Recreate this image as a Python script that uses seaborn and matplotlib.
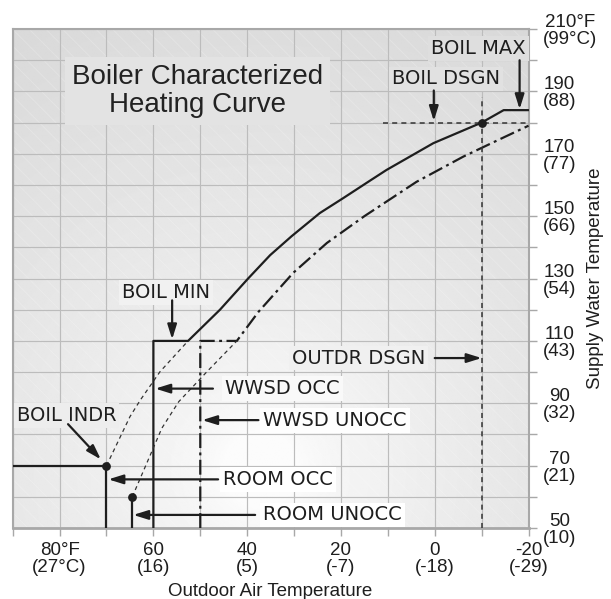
import numpy as np
import pandas as pd
import matplotlib
matplotlib.use("Agg")
import matplotlib.pyplot as plt
import seaborn as sns
from matplotlib.patches import Rectangle

# ---------------- data ----------------
x_ticks = list(range(90, -21, -10))
y_ticks = list(range(50, 211, 10))
x_label_map = {80: "80°F\n(27°C)", 60: "60\n(16)", 40: "40\n(5)", 20: "20\n(-7)",
               0: "0\n(-18)", -20: "-20\n(-29)"}
y_label_map = {210: "210°F\n(99°C)", 190: "190\n(88)", 170: "170\n(77)", 150: "150\n(66)",
               130: "130\n(54)", 110: "110\n(43)", 90: "90\n(32)", 70: "70\n(21)", 50: "50\n(10)"}

# occupied boiler curve (WWSD OCC vertical, BOIL MIN, curve, BOIL MAX)
occ_x = [60, 60, 52.6, 45.8, 39.8, 35.1, 30.5, 24.5, 19.5, 14.2, 10.3, 0.3, -10.0, -14.7, -20.0]
occ_y = [50, 110, 110, 120.0, 130.0, 137.5, 143.6, 151.0, 155.8, 161.0, 164.8, 173.4, 180.0, 184.0, 184.0]

# unoccupied boiler curve (WWSD UNOCC vertical, curve)
unocc_x = [50, 50, 42.2, 37.6, 30.2, 23.0, 15.0, 3.9, -6.1, -13.5, -20.0]
unocc_y = [50, 110, 110, 119.3, 131.8, 141.4, 150.0, 161.0, 169.1, 174.4, 179.0]

# thin dashed extensions below BOIL MIN
ext_occ_x = [70, 65, 62.8, 58.6, 52.6]
ext_occ_y = [70, 85.7, 91.0, 100.1, 110]
ext_unocc_x = [64.5, 58.2, 54.6, 48.6, 42.2]
ext_unocc_y = [60, 82.0, 90.5, 100.1, 110]

# BOIL INDR / ROOM lines
indr_x = [90, 70, 70]
indr_y = [70, 70, 50]
room_unocc_x = [64.5, 64.5]
room_unocc_y = [60, 50]

# design point lines and dots
dsgn_v_x = [-10, -10]
dsgn_v_y = [50, 188.3]
dsgn_h_x = [11, -20]
dsgn_h_y = [180, 180]
dot_x = [70, 64.5, -10]
dot_y = [70, 60, 180]

# annotations
label_text = ["BOIL MAX", "BOIL DSGN", "OUTDR DSGN", "BOIL MIN", "WWSD OCC",
              "WWSD UNOCC", "ROOM OCC", "ROOM UNOCC", "BOIL INDR"]
label_x = [-19.4, -13.9, 2.0, 47.9, 44.7, 36.6, 45.1, 36.6, 89.1]
label_y = [203.8, 194.0, 104.5, 125.5, 94.7, 84.6, 65.6, 54.2, 86.2]
label_ha = ["right", "right", "right", "right", "left", "left", "left", "left", "left"]
arrow_tail_x = [-18.1, 0.2, 0.0, 56.0, 47.3, 37.6, 46.2, 38.3, 78.2]
arrow_tail_y = [200.0, 190.3, 104.5, 123.0, 94.7, 84.6, 65.6, 54.2, 83.3]
arrow_tip_x = [-18.1, 0.2, -10.0, 56.0, 59.6, 49.6, 69.6, 64.3, 71.2]
arrow_tip_y = [184.3, 180.5, 104.5, 110.5, 94.7, 84.6, 65.6, 54.2, 72.0]

title_text = "Boiler Characterized\nHeating Curve"
title_x, title_y = 50.5, 190.0

# ---------------- style ----------------
sns.set_theme(style="white")
plt.rcParams["font.family"] = ["Liberation Sans", "DejaVu Sans"]
plt.rcParams["hatch.linewidth"] = 0.6
INK = "#1e1e1e"
GRID = "#bcbcbc"

XMIN, XMAX, YMIN, YMAX = 90, -20, 50, 210
W_PX, H_PX = 515.8, 499.0


def bg_value(fx, fy):
    d = np.sqrt(((fx - 0.48) * W_PX) ** 2 + ((fy - 0.116) * H_PX) ** 2)
    return 0.985 - 0.135 * np.clip((d - 40) / 470, 0, 1) ** 0.7


fig = plt.figure(figsize=(6.11, 5.99), dpi=100)
ax = fig.add_axes([0.0208, 0.1185, 0.8442, 0.833])

# background gradient + faint hatch
gx, gy = np.meshgrid(np.linspace(0, 1, 400), np.linspace(0, 1, 400))
ax.imshow(bg_value(gx, gy), extent=(0, 1, 0, 1), transform=ax.transAxes, origin="lower",
          cmap="gray", vmin=0, vmax=1, aspect="auto", zorder=0, interpolation="bilinear")
ax.add_patch(Rectangle((0, 0), 1, 1, transform=ax.transAxes, facecolor="none",
                       edgecolor=(1, 1, 1, 0.22), hatch="\\\\", lw=0, zorder=0.3))

# curves
sns.lineplot(x=occ_x, y=occ_y, sort=False, estimator=None, ax=ax, color=INK, lw=1.6, zorder=4)
ax.plot(unocc_x, unocc_y, color=INK, lw=1.6, linestyle=(0, (6.7, 2.0, 1.3, 2.0)), zorder=4)
ax.plot(ext_occ_x, ext_occ_y, color="#333333", lw=0.9, linestyle=(0, (3.2, 2.8)), zorder=4)
ax.plot(ext_unocc_x, ext_unocc_y, color="#333333", lw=0.9, linestyle=(0, (3.2, 2.8)), zorder=4)
sns.lineplot(x=indr_x, y=indr_y, sort=False, estimator=None, ax=ax, color=INK, lw=1.6, zorder=4)
sns.lineplot(x=room_unocc_x, y=room_unocc_y, sort=False, estimator=None, ax=ax, color=INK, lw=1.6, zorder=4)
ax.plot(dsgn_v_x, dsgn_v_y, color="#333333", lw=1.1, linestyle=(0, (3.3, 2.7)), zorder=4)
ax.plot(dsgn_h_x, dsgn_h_y, color="#333333", lw=1.1, linestyle=(0, (3.3, 2.7)), zorder=4)
sns.scatterplot(x=dot_x, y=dot_y, ax=ax, color=INK, s=40, edgecolor=INK, linewidth=0, zorder=6)

# title
ax.text(title_x, title_y, title_text, ha="center", va="center", fontsize=20, linespacing=1.1,
        color="#222222", zorder=3,
        bbox=dict(boxstyle="square,pad=0.25", fc="#e3e3e3", ec="none"))

# labels + arrows
for t, x, y, ha in zip(label_text, label_x, label_y, label_ha):
    fx, fy = (XMIN - x) / (XMIN - XMAX), (y - YMIN) / (YMAX - YMIN)
    v = min(1.0, float(bg_value(fx, fy)) + 0.02)
    ax.text(x, y, t, ha=ha, va="center", fontsize=14, family="DejaVu Sans", color=INK, zorder=3,
            bbox=dict(boxstyle="square,pad=0.15", fc=(v, v, v), ec="none"))
for tx, ty, hx, hy in zip(arrow_tail_x, arrow_tail_y, arrow_tip_x, arrow_tip_y):
    ax.annotate("", xy=(hx, hy), xytext=(tx, ty), zorder=5,
                arrowprops=dict(arrowstyle="-|>,head_length=0.8,head_width=0.25", lw=1.6,
                                color=INK, shrinkA=0, shrinkB=0, mutation_scale=11))

# axes
ax.set_xlim(XMIN, XMAX)
ax.set_ylim(YMIN, YMAX)
ax.set_xticks(x_ticks)
ax.set_xticklabels([x_label_map.get(v, "") for v in x_ticks])
ax.yaxis.tick_right()
ax.set_yticks(y_ticks)
ax.set_yticklabels([y_label_map.get(v, "") for v in y_ticks])
ax.set_axisbelow(True)
ax.grid(True, color=GRID, lw=0.85, zorder=0.5)
ax.tick_params(axis="x", bottom=True, top=False, length=6, width=1.0, color="#a8a8a8",
               pad=3.9, labelsize=13.5, labelcolor=INK)
ax.tick_params(axis="y", left=False, right=True, length=6, width=1.0, color="#a8a8a8",
               pad=4.4, labelsize=13.5, labelcolor=INK)
for lab in ax.get_xticklabels() + ax.get_yticklabels():
    lab.set_multialignment("center")
    lab.set_linespacing(1.0)
for side in ["top", "left", "right"]:
    ax.spines[side].set_color("#a8a8a8")
    ax.spines[side].set_linewidth(1.5)
ax.spines["bottom"].set_color("#a8a8a8")
ax.spines["bottom"].set_linewidth(2.0)

ax.set_xlabel("Outdoor Air Temperature", fontsize=13.5, color=INK, labelpad=5)
ax.set_ylabel("Supply Water Temperature", fontsize=13.5, color=INK)
ax.yaxis.set_label_position("right")
ax.yaxis.set_label_coords(1.113, 0.5)
if ax.get_legend() is not None:
    ax.get_legend().remove()

fig.savefig("out.png", dpi=100)
